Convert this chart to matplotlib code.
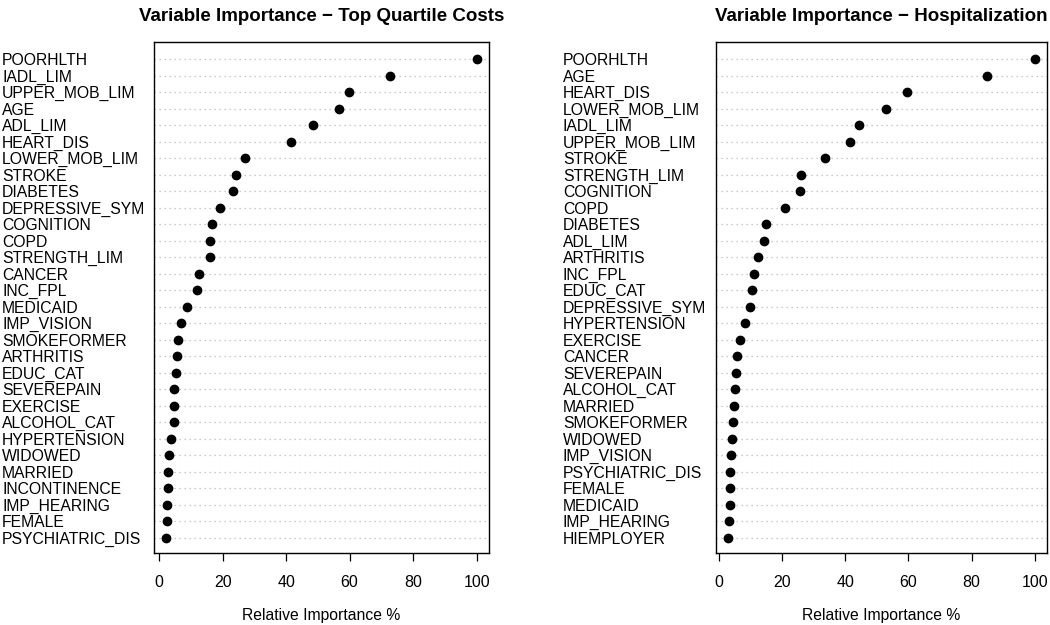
import matplotlib.pyplot as plt

plt.rcParams['font.family'] = ['Liberation Sans', 'DejaVu Sans']

# left panel: top quartile costs (top to bottom)
cost_vars = ['POORHLTH', 'IADL_LIM', 'UPPER_MOB_LIM', 'AGE', 'ADL_LIM', 'HEART_DIS',
             'LOWER_MOB_LIM', 'STROKE', 'DIABETES', 'DEPRESSIVE_SYM', 'COGNITION',
             'COPD', 'STRENGTH_LIM', 'CANCER', 'INC_FPL', 'MEDICAID', 'IMP_VISION',
             'SMOKEFORMER', 'ARTHRITIS', 'EDUC_CAT', 'SEVEREPAIN', 'EXERCISE',
             'ALCOHOL_CAT', 'HYPERTENSION', 'WIDOWED', 'MARRIED', 'INCONTINENCE',
             'IMP_HEARING', 'FEMALE', 'PSYCHIATRIC_DIS']
cost_vals = [100, 72.8, 59.9, 56.6, 48.6, 41.6, 27.2, 24.2, 23.3, 19.3, 16.7,
             16.1, 15.9, 12.7, 12.0, 8.9, 6.8, 5.8, 5.7, 5.3, 4.8, 4.7,
             4.6, 3.9, 3.1, 2.8, 2.7, 2.5, 2.4, 2.3]

# right panel: hospitalization
hosp_vars = ['POORHLTH', 'AGE', 'HEART_DIS', 'LOWER_MOB_LIM', 'IADL_LIM', 'UPPER_MOB_LIM',
             'STROKE', 'STRENGTH_LIM', 'COGNITION', 'COPD', 'DIABETES', 'ADL_LIM',
             'ARTHRITIS', 'INC_FPL', 'EDUC_CAT', 'DEPRESSIVE_SYM', 'HYPERTENSION',
             'EXERCISE', 'CANCER', 'SEVEREPAIN', 'ALCOHOL_CAT', 'MARRIED',
             'SMOKEFORMER', 'WIDOWED', 'IMP_VISION', 'PSYCHIATRIC_DIS', 'FEMALE',
             'MEDICAID', 'IMP_HEARING', 'HIEMPLOYER']
hosp_vals = [100, 84.8, 59.5, 52.8, 44.4, 41.5, 33.5, 26.0, 25.5, 20.9, 14.8, 14.3,
             12.4, 11.2, 10.3, 9.7, 8.2, 6.7, 5.8, 5.3, 4.9, 4.8,
             4.3, 4.2, 3.9, 3.6, 3.4, 3.3, 3.1, 2.9]

xticks = [0, 20, 40, 60, 80, 100]

W, H = 1050, 625
fig = plt.figure(figsize=(W / 100, H / 100), dpi=100)


def dotchart(rect, label_x, names, vals, title):
    l, t, r, b = rect
    ax = fig.add_axes([l / W, 1 - b / H, (r - l) / W, (b - t) / H])
    n = len(names)
    ys = list(range(1, n + 1))
    for y in ys:
        ax.axhline(y, color='#b8b8b8', lw=0.9, ls=(0, (1, 3)), zorder=1)
    ax.plot(vals, ys, 'o', color='black', ms=6, zorder=3)
    lo, hi = min(vals), max(vals)
    pad = (hi - lo) * 0.04
    ax.set_xlim(lo - pad, hi + pad)
    ax.set_ylim(n + 0.93, -0.04)
    ax.set_yticks(ys)
    ax.set_yticklabels(names, ha='left', fontsize=11.3)
    ax.tick_params(axis='y', length=0, pad=(l - label_x) * 0.72)
    ax.set_xticks(xticks)
    ax.tick_params(axis='x', direction='out', length=6, width=0.9, labelsize=11.5, pad=10)
    for s in ax.spines.values():
        s.set_linewidth(1.0)
    ax.set_title(title, fontsize=13.5, fontweight='bold', pad=15)
    ax.set_xlabel('Relative Importance %', fontsize=11.3, labelpad=13)
    return ax


dotchart((154, 42, 489, 553), 2, cost_vars, cost_vals,
         'Variable Importance \u2212 Top Quartile Costs')
dotchart((716, 42, 1047, 553), 563, hosp_vars, hosp_vals,
         'Variable Importance \u2212 Hospitalization')

fig.savefig('out.png', dpi=100)
